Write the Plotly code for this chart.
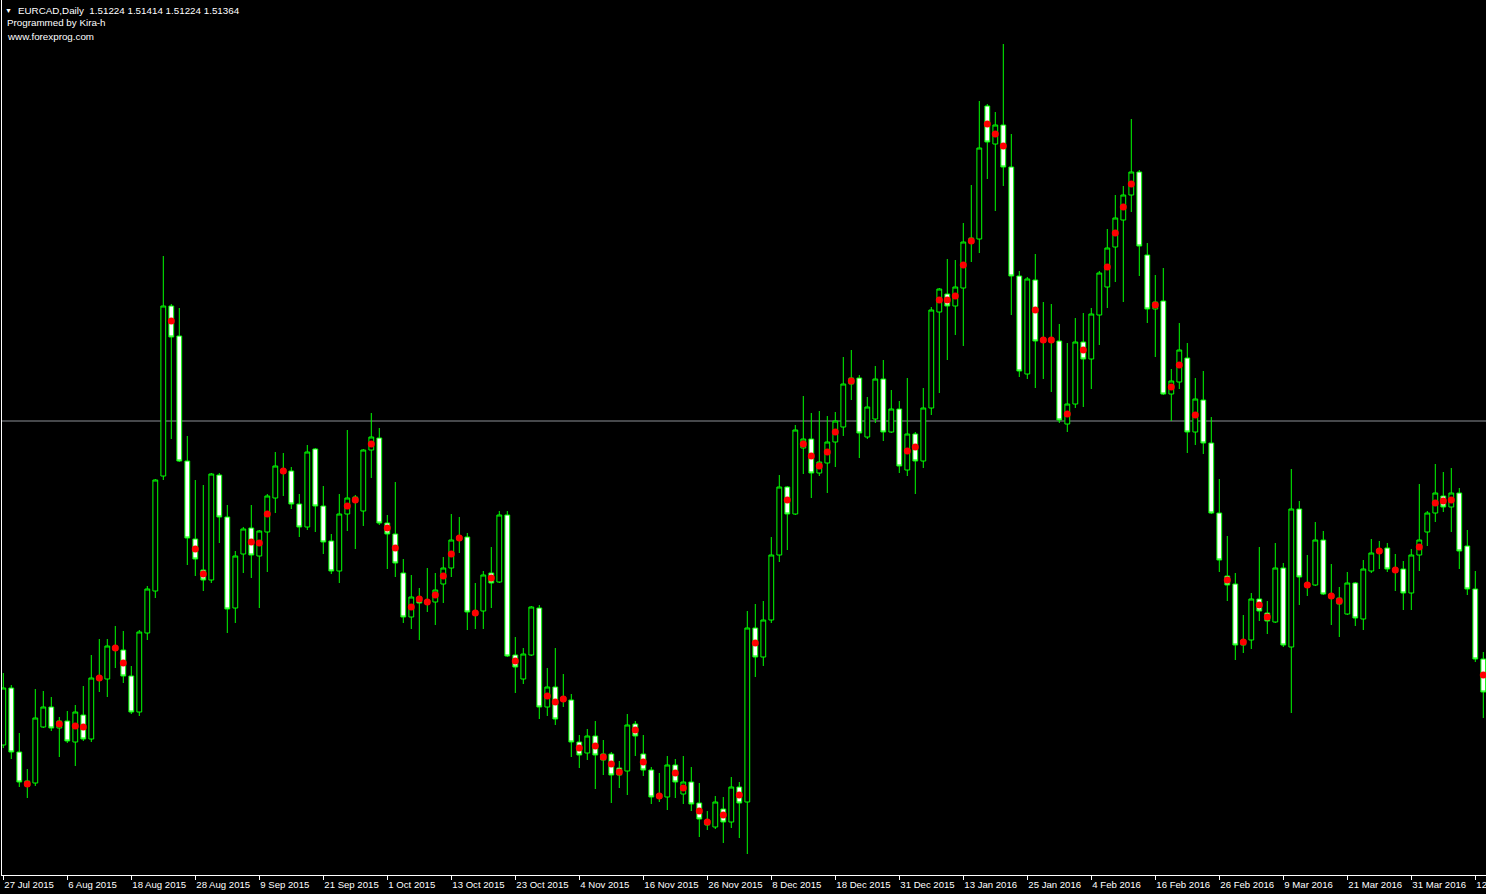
import plotly.graph_objects as go

# ---------------- data ----------------
tick_labels = ["27 Jul 2015", "6 Aug 2015", "18 Aug 2015", "28 Aug 2015", "9 Sep 2015",
               "21 Sep 2015", "1 Oct 2015", "13 Oct 2015", "23 Oct 2015", "4 Nov 2015",
               "16 Nov 2015", "26 Nov 2015", "8 Dec 2015", "18 Dec 2015", "31 Dec 2015",
               "13 Jan 2016", "25 Jan 2016", "4 Feb 2016", "16 Feb 2016", "26 Feb 2016",
               "9 Mar 2016", "21 Mar 2016", "31 Mar 2016", "12 Apr 2016"]

open_ = [1.4510, 1.4624, 1.4496, 1.4438, 1.4434, 1.4546, 1.4586, 1.4544, 1.4558, 1.4516,
         1.4570, 1.4522, 1.4640, 1.4642, 1.4700, 1.4700, 1.4648, 1.4576, 1.4734, 1.4818,
         1.5048, 1.5388, 1.5328, 1.5078, 1.4922, 1.4860, 1.4840, 1.5050, 1.4966, 1.4784,
         1.4892, 1.4944, 1.4888, 1.4936, 1.5004, 1.5054, 1.5058, 1.4992, 1.4946, 1.5102,
         1.4988, 1.4918, 1.4858, 1.4972, 1.4996, 1.4978, 1.5100, 1.5124, 1.4954, 1.4932,
         1.4854, 1.4766, 1.4806, 1.4800, 1.4796, 1.4832, 1.4864, 1.4920, 1.4926, 1.4778,
         1.4778, 1.4854, 1.4836, 1.4970, 1.4690, 1.4642, 1.4690, 1.4784, 1.4586, 1.4626,
         1.4606, 1.4600, 1.4516, 1.4494, 1.4528, 1.4492, 1.4492, 1.4464, 1.4458, 1.4552,
         1.4492, 1.4460, 1.4412, 1.4406, 1.4470, 1.4412, 1.4436, 1.4394, 1.4360, 1.4346,
         1.4382, 1.4356, 1.4426, 1.4396, 1.4744, 1.4686, 1.4760, 1.4890, 1.5026, 1.4972,
         1.5104, 1.5122, 1.5054, 1.5074, 1.5116, 1.5146, 1.5232, 1.5244, 1.5126, 1.5162,
         1.5242, 1.5136, 1.5182, 1.5060, 1.5132, 1.5078, 1.5184, 1.5376, 1.5412, 1.5388,
         1.5424, 1.5514, 1.5522, 1.5788, 1.5712, 1.5750, 1.5666, 1.5448, 1.5252, 1.5440,
         1.5324, 1.5316, 1.5318, 1.5152, 1.5192, 1.5316, 1.5282, 1.5370, 1.5426, 1.5506,
         1.5560, 1.5610, 1.5656, 1.5490, 1.5382, 1.5398, 1.5212, 1.5236, 1.5284, 1.5136,
         1.5200, 1.5114, 1.4974, 1.4848, 1.4832, 1.4710, 1.4720, 1.4802, 1.4774, 1.4756,
         1.4864, 1.4706, 1.4982, 1.4834, 1.4830, 1.4920, 1.4812, 1.4792, 1.4772, 1.4834,
         1.4762, 1.4858, 1.4902, 1.4904, 1.4864, 1.4862, 1.4814, 1.4890, 1.4936, 1.4974,
         1.5008, 1.4986, 1.5014, 1.4908, 1.4822, 1.4682]

high = [1.4654, 1.4630, 1.4534, 1.4462, 1.4622, 1.4618, 1.4606, 1.4566, 1.4578, 1.4590,
        1.4628, 1.4690, 1.4722, 1.4722, 1.4748, 1.4738, 1.4668, 1.4740, 1.4828, 1.5042,
        1.5488, 1.5392, 1.5384, 1.5128, 1.5040, 1.5030, 1.5054, 1.5054, 1.4990, 1.4898,
        1.4946, 1.4990, 1.4940, 1.5012, 1.5096, 1.5094, 1.5066, 1.5012, 1.5110, 1.5104,
        1.5028, 1.4932, 1.5012, 1.5140, 1.5010, 1.5102, 1.5174, 1.5144, 1.4970, 1.5036,
        1.4882, 1.4850, 1.4824, 1.4864, 1.4854, 1.4886, 1.4972, 1.4966, 1.4934, 1.4834,
        1.4858, 1.4906, 1.4978, 1.4978, 1.4726, 1.4704, 1.4788, 1.4790, 1.4664, 1.4704,
        1.4652, 1.4612, 1.4530, 1.4542, 1.4558, 1.4520, 1.4496, 1.4478, 1.4572, 1.4558,
        1.4530, 1.4466, 1.4454, 1.4488, 1.4482, 1.4488, 1.4466, 1.4434, 1.4378, 1.4408,
        1.4406, 1.4446, 1.4436, 1.4778, 1.4792, 1.4798, 1.4926, 1.5050, 1.5028, 1.5150,
        1.5208, 1.5174, 1.5178, 1.5168, 1.5176, 1.5286, 1.5300, 1.5250, 1.5206, 1.5268,
        1.5280, 1.5220, 1.5198, 1.5244, 1.5136, 1.5224, 1.5386, 1.5424, 1.5482, 1.5480,
        1.5554, 1.5630, 1.5798, 1.5792, 1.5776, 1.5912, 1.5732, 1.5458, 1.5446, 1.5492,
        1.5396, 1.5392, 1.5352, 1.5314, 1.5364, 1.5374, 1.5384, 1.5458, 1.5542, 1.5610,
        1.5628, 1.5762, 1.5660, 1.5514, 1.5450, 1.5464, 1.5262, 1.5354, 1.5314, 1.5244,
        1.5258, 1.5166, 1.5042, 1.4928, 1.4854, 1.4770, 1.4814, 1.4906, 1.4798, 1.4914,
        1.4874, 1.5062, 1.4998, 1.4890, 1.4956, 1.4938, 1.4872, 1.4826, 1.4856, 1.4836,
        1.4880, 1.4922, 1.4918, 1.4914, 1.4892, 1.4878, 1.4902, 1.5032, 1.4978, 1.5072,
        1.5056, 1.5064, 1.5024, 1.4940, 1.4858, 1.4696]

low = [1.4504, 1.4482, 1.4426, 1.4404, 1.4428, 1.4544, 1.4538, 1.4486, 1.4514, 1.4468,
       1.4518, 1.4516, 1.4616, 1.4606, 1.4664, 1.4634, 1.4572, 1.4568, 1.4720, 1.4804,
       1.5040, 1.5122, 1.5076, 1.4870, 1.4848, 1.4818, 1.4834, 1.4914, 1.4734, 1.4754,
       1.4854, 1.4844, 1.4784, 1.4856, 1.4974, 1.5008, 1.4982, 1.4926, 1.4940, 1.4936,
       1.4892, 1.4852, 1.4834, 1.4938, 1.4902, 1.4948, 1.5044, 1.4950, 1.4862, 1.4846,
       1.4754, 1.4742, 1.4720, 1.4776, 1.4750, 1.4794, 1.4846, 1.4894, 1.4740, 1.4742,
       1.4742, 1.4784, 1.4834, 1.4686, 1.4614, 1.4632, 1.4688, 1.4562, 1.4568, 1.4550,
       1.4586, 1.4486, 1.4464, 1.4480, 1.4422, 1.4450, 1.4394, 1.4424, 1.4410, 1.4488,
       1.4448, 1.4392, 1.4396, 1.4380, 1.4404, 1.4392, 1.4378, 1.4326, 1.4340, 1.4342,
       1.4314, 1.4344, 1.4324, 1.4292, 1.4646, 1.4668, 1.4754, 1.4876, 1.4900, 1.4970,
       1.5052, 1.5004, 1.5048, 1.5014, 1.5066, 1.5128, 1.5200, 1.5084, 1.5122, 1.5154,
       1.5118, 1.5134, 1.5054, 1.5048, 1.5012, 1.5064, 1.5170, 1.5214, 1.5280, 1.5330,
       1.5308, 1.5476, 1.5494, 1.5642, 1.5578, 1.5628, 1.5370, 1.5246, 1.5242, 1.5224,
       1.5242, 1.5216, 1.5154, 1.5136, 1.5184, 1.5186, 1.5222, 1.5310, 1.5384, 1.5436,
       1.5396, 1.5576, 1.5448, 1.5354, 1.5286, 1.5210, 1.5158, 1.5222, 1.5094, 1.5110,
       1.5092, 1.4972, 1.4856, 1.4798, 1.4680, 1.4694, 1.4702, 1.4758, 1.4732, 1.4754,
       1.4706, 1.4574, 1.4790, 1.4808, 1.4828, 1.4810, 1.4750, 1.4726, 1.4770, 1.4748,
       1.4740, 1.4854, 1.4862, 1.4856, 1.4818, 1.4780, 1.4780, 1.4858, 1.4908, 1.4956,
       1.4976, 1.4936, 1.4862, 1.4810, 1.4676, 1.4564]

close = [1.4624, 1.4496, 1.4436, 1.4428, 1.4564, 1.4586, 1.4544, 1.4558, 1.4518, 1.4576,
         1.4522, 1.4644, 1.4648, 1.4708, 1.4708, 1.4648, 1.4576, 1.4736, 1.4822, 1.5040,
         1.5388, 1.5326, 1.5078, 1.4924, 1.4882, 1.4840, 1.5052, 1.4966, 1.4782, 1.4888,
         1.4942, 1.4890, 1.4938, 1.5008, 1.5068, 1.5062, 1.4992, 1.4946, 1.5096, 1.4988,
         1.4916, 1.4858, 1.4972, 1.5004, 1.5006, 1.5100, 1.5126, 1.4954, 1.4932, 1.4874,
         1.4766, 1.4806, 1.4794, 1.4794, 1.4820, 1.4864, 1.4920, 1.4928, 1.4776, 1.4770,
         1.4850, 1.4834, 1.4970, 1.4688, 1.4666, 1.4692, 1.4786, 1.4586, 1.4626, 1.4562,
         1.4598, 1.4516, 1.4490, 1.4528, 1.4490, 1.4480, 1.4450, 1.4450, 1.4550, 1.4528,
         1.4460, 1.4406, 1.4404, 1.4470, 1.4436, 1.4436, 1.4392, 1.4362, 1.4350, 1.4396,
         1.4356, 1.4426, 1.4394, 1.4744, 1.4686, 1.4760, 1.4890, 1.5026, 1.4972, 1.5140,
         1.5122, 1.5054, 1.5076, 1.5116, 1.5158, 1.5232, 1.5244, 1.5134, 1.5186, 1.5242,
         1.5136, 1.5182, 1.5068, 1.5132, 1.5078, 1.5184, 1.5380, 1.5422, 1.5388, 1.5426,
         1.5516, 1.5524, 1.5704, 1.5716, 1.5750, 1.5666, 1.5448, 1.5258, 1.5442, 1.5318,
         1.5316, 1.5324, 1.5160, 1.5192, 1.5316, 1.5282, 1.5372, 1.5454, 1.5504, 1.5564,
         1.5610, 1.5656, 1.5508, 1.5382, 1.5396, 1.5212, 1.5238, 1.5300, 1.5136, 1.5202,
         1.5114, 1.4974, 1.4880, 1.4830, 1.4710, 1.4720, 1.4802, 1.4778, 1.4758, 1.4864,
         1.4710, 1.4982, 1.4846, 1.4826, 1.4920, 1.4812, 1.4804, 1.4804, 1.4834, 1.4764,
         1.4862, 1.4894, 1.4894, 1.4862, 1.4856, 1.4814, 1.4890, 1.4920, 1.4974, 1.5014,
         1.4986, 1.5014, 1.4898, 1.4822, 1.4682, 1.4616]

# indicator dots (bar index, price)
dot_bars = [3, 7, 9, 10, 12, 14, 15, 21, 24, 25, 31, 32, 33, 35, 43, 44, 46, 48, 49,
            51, 52, 53, 54, 55, 56, 57, 59, 61, 64, 68, 69, 70, 72, 74, 75, 76, 77, 79,
            80, 82, 84, 85, 87, 88, 90, 92, 94, 98, 100, 101, 102, 103, 104, 106, 113,
            114, 117, 118, 119, 120, 121, 123, 124, 125, 129, 130, 131, 133, 135, 138,
            139, 140, 141, 144, 146, 147, 149, 153, 155, 157, 158, 163, 166, 167, 172,
            174, 177, 179, 180, 181, 185]
dot_values = [1.4432, 1.4552, 1.4548, 1.4546, 1.4644, 1.4704, 1.4674, 1.5358, 1.4902,
              1.4852, 1.4916, 1.4914, 1.4972, 1.5058, 1.4988, 1.5000, 1.5112, 1.4944,
              1.4904, 1.4786, 1.4802, 1.4796, 1.4810, 1.4848, 1.4892, 1.4924, 1.4774,
              1.4844, 1.4678, 1.4608, 1.4596, 1.4602, 1.4504, 1.4508, 1.4486, 1.4472,
              1.4456, 1.4540, 1.4476, 1.4408, 1.4454, 1.4424, 1.4378, 1.4356, 1.4370,
              1.4410, 1.4714, 1.5000, 1.5112, 1.5088, 1.5068, 1.5096, 1.5136, 1.5238,
              1.5098, 1.5106, 1.5400, 1.5400, 1.5408, 1.5470, 1.5518, 1.5752, 1.5732,
              1.5708, 1.5380, 1.5320, 1.5320, 1.5172, 1.5300, 1.5466, 1.5534, 1.5586,
              1.5632, 1.5390, 1.5226, 1.5270, 1.5170, 1.4840, 1.4716, 1.4790, 1.4766,
              1.4830, 1.4808, 1.4798, 1.4898, 1.4860, 1.4906, 1.4994, 1.4998, 1.5000,
              1.4650]

bid_price = 1.5158
header_text = "EURCAD,Daily\u00a0\u00a01.51224 1.51414 1.51224 1.51364"

# ---------------- figure ----------------
bars = list(range(len(open_)))
W, H = 1486, 894
ML, MB = 2, 19
PW, PH = W - ML, H - MB

fig = go.Figure()
fig.add_trace(go.Candlestick(
    x=bars, open=open_, high=high, low=low, close=close,
    increasing=dict(line=dict(color="#00FF00", width=1), fillcolor="#000000"),
    decreasing=dict(line=dict(color="#00FF00", width=1), fillcolor="#FFFFFF"),
    whiskerwidth=0, hoverinfo="skip", showlegend=False))
fig.add_trace(go.Scatter(
    x=dot_bars, y=dot_values, mode="markers",
    marker=dict(color="#FF0000", size=7, symbol="circle", line=dict(width=0)),
    hoverinfo="skip", showlegend=False))

fig.add_shape(type="line", xref="paper", x0=0, x1=1, yref="y", y0=bid_price, y1=bid_price,
              line=dict(color="#8C9096", width=1), layer="below")

font = "Liberation Sans, Arial, sans-serif"


def px_x(px):
    return (px - ML) / PW


def px_y(py):
    return 1 - py / PH


ann = [
    dict(text="▼", x=px_x(4), y=px_y(10), font=dict(size=7)),
    dict(text=header_text, x=px_x(17), y=px_y(10)),
    dict(text="Programmed by Kira-h", x=px_x(6), y=px_y(23)),
    dict(text="www.forexprog.com", x=px_x(6), y=px_y(36)),
]
for a in ann:
    f = dict(family=font, size=9.8, color="#FFFFFF")
    f.update(a.get("font", {}))
    a["font"] = f
    fig.add_annotation(xref="paper", yref="paper", xanchor="left", yanchor="middle",
                       showarrow=False, borderpad=0, **{k: v for k, v in a.items()})

fig.update_layout(
    width=W, height=H,
    margin=dict(l=ML, r=0, t=0, b=MB, pad=0, autoexpand=False),
    paper_bgcolor="#000000", plot_bgcolor="#000000",
    boxgap=0.4, boxgroupgap=0,
    showlegend=False, hovermode=False,
    xaxis=dict(range=[-0.1625, 185.3375], tickvals=bars[::8], ticktext=tick_labels,
               ticks="outside", ticklen=4, tickcolor="#FFFFFF", tickwidth=1,
               ticklabelposition="outside right", ticklabeloverflow="allow",
               tickangle=0, automargin=False,
               tickfont=dict(family=font, size=9.6, color="#FFFFFF"),
               showgrid=False, zeroline=False, showline=True, linecolor="#FFFFFF",
               linewidth=1, rangeslider=dict(visible=False), fixedrange=True),
    yaxis=dict(range=[1.425, 1.6], showgrid=False, zeroline=False, showticklabels=False,
               ticks="", showline=True, linecolor="#FFFFFF", linewidth=1, fixedrange=True,
               automargin=False),
)

fig.write_html("out.html", config={"displayModeBar": False},
               post_script="document.body.style.margin='0';document.body.style.overflow='hidden';")
